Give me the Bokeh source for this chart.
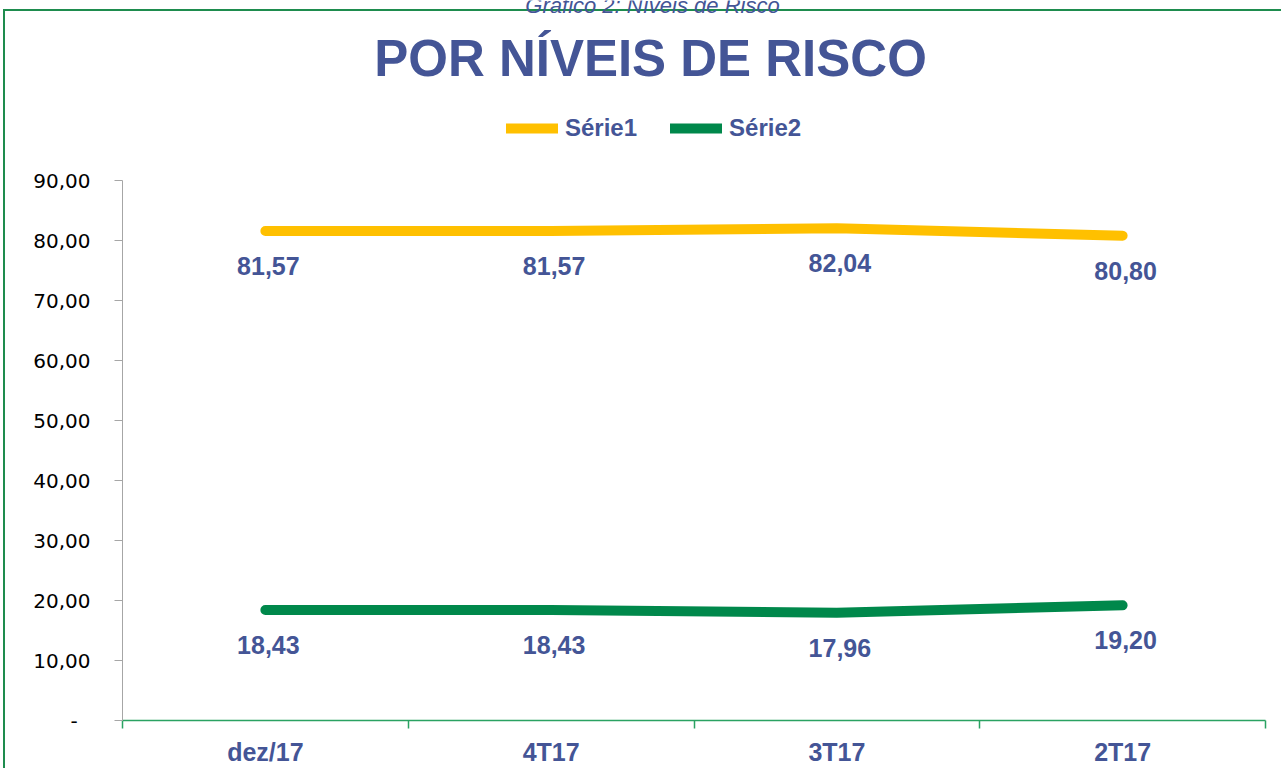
from bokeh.plotting import figure
from bokeh.models import (ColumnDataSource, LabelSet, Label, Legend, LegendItem,
                          FixedTicker, Range1d)
from bokeh.core.properties import value
from bokeh.embed import file_html
from bokeh.resources import INLINE

categories = ["dez/17", "4T17", "3T17", "2T17"]
serie1 = [81.57, 81.57, 82.04, 80.80]
serie2 = [18.43, 18.43, 17.96, 19.20]
series_names = ["Série1", "Série2"]
y_ticks = [0, 10, 20, 30, 40, 50, 60, 70, 80, 90]
title_text = "POR NÍVEIS DE RISCO"
caption_text = "Gráfico 2: Níveis de Risco"

BLUE = "#445596"
YELLOW = "#FFC000"
GREEN = "#00884B"
AXGREEN = "#2AA262"
BORDER = "#1E8C4E"

OFF = 8                      # figure origin sits at page (-8, -8)
W, H = 1289, 776
FL, FB = 122, 720            # frame left / bottom in page px
AX_TOP, AX_RIGHT = 180, 1265  # where y=90 and the last category edge sit
FRAME_TOP = 0
FRAME_RIGHT = W - OFF

def fmt(v):
    return f"{v:.2f}".replace(".", ",")

n = len(categories)
xs = [i + 0.5 for i in range(n)]
ymax_axis = y_ticks[-1]
y_end = ymax_axis * (FB - FRAME_TOP) / (FB - AX_TOP)
x_end = n * (FRAME_RIGHT - FL) / (AX_RIGHT - FL)

p = figure(width=W, height=H, output_backend="svg", toolbar_location=None,
           title=None,
           x_range=Range1d(0, x_end), y_range=Range1d(0, y_end),
           min_border_left=FL + OFF, min_border_top=FRAME_TOP + OFF,
           min_border_right=0, min_border_bottom=H - (FB + OFF))
bg = (f"linear-gradient({BORDER},{BORDER}) 11px 17px / 2px 100% no-repeat, "
      f"linear-gradient({BORDER},{BORDER}) 11px 17px / 100% 2px no-repeat, white")
p.styles = {"margin-left": "-8px", "margin-top": "-8px", "background": bg}
p.outline_line_color = None
p.xgrid.visible = False
p.ygrid.visible = False
p.background_fill_alpha = 0
p.border_fill_alpha = 0

# y axis
ya = p.yaxis[0]
ya.bounds = (0, ymax_axis)
ya.ticker = FixedTicker(ticks=y_ticks, minor_ticks=[])
ya.major_label_overrides = {t: (fmt(t) if t != 0 else "-\u00a0\u00a0") for t in y_ticks}
ya.axis_line_color = "#A6A6A6"
ya.major_tick_line_color = "#A6A6A6"
ya.major_tick_out = 8
ya.major_tick_in = 0
ya.minor_tick_line_color = None
ya.major_label_standoff = 24
ya.major_label_text_font = "DejaVu Sans"
ya.major_label_text_font_size = "20px"
ya.major_label_text_color = "#000000"

# x axis
xa = p.xaxis[0]
xa.bounds = (0, n)
xa.ticker = FixedTicker(ticks=xs, minor_ticks=list(range(n + 1)))
xa.major_label_overrides = {x: c for x, c in zip(xs, categories)}
xa.axis_line_color = AXGREEN
xa.axis_line_width = 1.5
xa.major_tick_line_color = None
xa.major_tick_out = 0
xa.major_tick_in = 0
xa.minor_tick_line_color = AXGREEN
xa.minor_tick_line_width = 1.5
xa.minor_tick_out = 8
xa.minor_tick_in = 0
xa.major_label_standoff = 9
xa.major_label_text_font = "Liberation Sans"
xa.major_label_text_font_style = "bold"
xa.major_label_text_font_size = "25px"
xa.major_label_text_color = BLUE

src = ColumnDataSource(dict(x=xs, s1=serie1, s2=serie2,
                            t1=[fmt(v) for v in serie1],
                            t2=[fmt(v) for v in serie2]))

r1 = p.line("x", "s1", source=src, line_color=YELLOW, line_width=10,
            line_cap="round", line_join="round")
r2 = p.line("x", "s2", source=src, line_color=GREEN, line_width=10,
            line_cap="round", line_join="round")

for col, ycol in (("t1", "s1"), ("t2", "s2")):
    p.add_layout(LabelSet(x="x", y=ycol, text=col, source=src, y_offset=-35,
                          x_offset=3,
                          text_align="center", text_baseline="middle",
                          text_font=value("Liberation Sans"),
                          text_font_style="bold",
                          text_font_size="25px", text_color=BLUE))

legend = Legend(items=[LegendItem(label=series_names[0], renderers=[r1]),
                       LegendItem(label=series_names[1], renderers=[r2])],
                orientation="horizontal", location=(506 - FL, FB - 142),
                glyph_width=52, glyph_height=28, label_standoff=7, spacing=33,
                padding=0, margin=0, border_line_color=None,
                background_fill_alpha=0,
                label_text_font="Liberation Sans", label_text_font_style="bold",
                label_text_font_size="24px", label_text_color=BLUE)
p.add_layout(legend)

# title
p.add_layout(Label(x=650 - FL, y=FB - 58, x_units="screen", y_units="screen",
                   text=title_text, text_align="center", text_baseline="middle",
                   text_font="Liberation Sans", text_font_style="bold",
                   text_font_size="51px", text_color=BLUE))
# caption (cut at top, as in the source page)
p.add_layout(Label(x=652 - FL, y=FB - 5, x_units="screen", y_units="screen",
                   text=caption_text, text_align="center", text_baseline="alphabetic",
                   text_font="Liberation Sans", text_font_style="italic",
                   text_font_size="22px", text_color=BLUE))

open("out.html", "w").write(file_html(p, INLINE))
